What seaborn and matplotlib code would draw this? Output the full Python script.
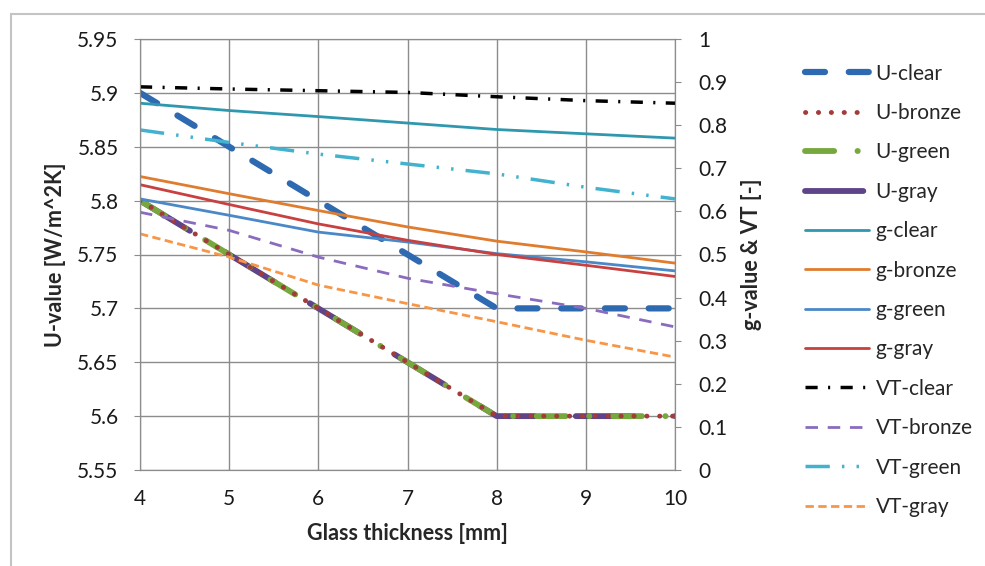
import seaborn as sns
import matplotlib.pyplot as plt
import matplotlib.patches as mpatches
from matplotlib.ticker import FuncFormatter

# data
thickness = [4, 5, 6, 7, 8, 9, 10]

u_clear = [5.90, 5.85, 5.80, 5.75, 5.70, 5.70, 5.70]
u_bronze = [5.80, 5.75, 5.70, 5.65, 5.60, 5.60, 5.60]
u_green = [5.80, 5.75, 5.70, 5.65, 5.60, 5.60, 5.60]
u_gray = [5.80, 5.75, 5.70, 5.65, 5.60, 5.60, 5.60]

g_clear = [0.851, 0.834, 0.820, 0.805, 0.790, 0.780, 0.770]
g_bronze = [0.681, 0.641, 0.602, 0.564, 0.531, 0.506, 0.480]
g_green = [0.629, 0.591, 0.552, 0.529, 0.502, 0.483, 0.462]
g_gray = [0.662, 0.616, 0.571, 0.533, 0.500, 0.475, 0.449]

vt_clear = [0.889, 0.884, 0.880, 0.876, 0.866, 0.857, 0.851]
vt_bronze = [0.598, 0.556, 0.494, 0.445, 0.409, 0.375, 0.332]
vt_green = [0.789, 0.760, 0.733, 0.710, 0.687, 0.656, 0.629]
vt_gray = [0.548, 0.494, 0.429, 0.386, 0.344, 0.301, 0.262]

sns.set_style("white")
plt.rcParams['font.family'] = ['Lato', 'DejaVu Sans']
plt.rcParams['font.size'] = 15

fig = plt.figure(figsize=(9.85, 5.66), dpi=100)
ax = fig.add_axes([140 / 985, 1 - 470 / 566, (675 - 140) / 985, (470 - 39) / 566])
ax2 = ax.twinx()

# outer frame of the chart area
fig.patches.append(mpatches.Rectangle((11 / 985, -0.1), 1.2, 1 - 14 / 566 + 0.1,
                                      transform=fig.transFigure, fill=False,
                                      edgecolor='#c4c4c4', linewidth=1.5))

# U-values, left axis; the three coloured glasses share the same values,
# so their long dashes / dots interleave like in the original
sns.lineplot(x=thickness, y=u_gray, ax=ax, color='#5E4488', linewidth=4.2,
             linestyle=(0, (10, 7)), dash_capstyle='round', label='U-gray')
sns.lineplot(x=thickness, y=u_green, ax=ax, color='#77A83E', linewidth=4.2,
             linestyle=(0, (5, 4, 0.05, 4)), dash_capstyle='round', label='U-green')
sns.lineplot(x=thickness, y=u_bronze, ax=ax, color='#A33B3B', linewidth=3.5,
             linestyle=(0, (0.05, 2.6)), dash_capstyle='round', label='U-bronze')
sns.lineplot(x=thickness, y=u_clear, ax=ax, color='#2E6AB1', linewidth=4.5,
             linestyle=(0, (3.2, 3.8)), dash_capstyle='round', label='U-clear')

# g-values and VT, right axis
sns.lineplot(x=thickness, y=g_clear, ax=ax2, color='#2F97AE', linewidth=2, label='g-clear')
sns.lineplot(x=thickness, y=g_bronze, ax=ax2, color='#E07C2E', linewidth=2, label='g-bronze')
sns.lineplot(x=thickness, y=g_green, ax=ax2, color='#4A88C7', linewidth=2, label='g-green')
sns.lineplot(x=thickness, y=g_gray, ax=ax2, color='#C8403F', linewidth=2, label='g-gray')
sns.lineplot(x=thickness, y=vt_clear, ax=ax2, color='black', linewidth=2.5,
             linestyle=(0, (3.5, 3, 0.6, 3)), label='VT-clear')
sns.lineplot(x=thickness, y=vt_bronze, ax=ax2, color='#8A6BBE', linewidth=2,
             linestyle=(0, (4.5, 3.5)), label='VT-bronze')
sns.lineplot(x=thickness, y=vt_green, ax=ax2, color='#43B2CE', linewidth=2.5,
             linestyle=(0, (7, 3.5, 0.7, 3.5, 0.7, 3.5)), label='VT-green')
sns.lineplot(x=thickness, y=vt_gray, ax=ax2, color='#F79646', linewidth=2,
             linestyle=(0, (3, 1.6)), label='VT-gray')

# axes
ax.set_xlim(4, 10)
ax.set_ylim(5.55, 5.95)
ax.set_yticks([5.55 + 0.05 * i for i in range(9)])
ax.yaxis.set_major_formatter(FuncFormatter(lambda v, p: f'{v:.2f}'.rstrip('0').rstrip('.')))
ax.set_xticks(thickness)
ax2.set_ylim(0, 1)
ax2.set_yticks([i / 10 for i in range(11)])
ax2.yaxis.set_major_formatter(FuncFormatter(lambda v, p: f'{v:.1f}'.rstrip('0').rstrip('.')))

ax.grid(True, color='#8c8c8c', linewidth=1)
ax2.grid(False)
for a in (ax, ax2):
    for s in a.spines.values():
        s.set_color('#8c8c8c')
    a.tick_params(length=4.5, color='#8c8c8c', labelsize=15, labelcolor='#1a1a1a')
ax.tick_params(axis='y', pad=11)
ax.tick_params(axis='x', pad=9)
ax2.tick_params(axis='y', pad=12)

ax.set_xlabel('Glass thickness [mm]', fontweight='bold', fontsize=15.5, labelpad=10)
ax.set_ylabel('U-value [W/m^2K]', fontweight='bold', fontsize=15.5, labelpad=8)
ax2.set_ylabel('g-value & VT [-]', fontweight='bold', fontsize=15.5, labelpad=10)

# one legend for both axes
h1, l1 = ax.get_legend_handles_labels()
h2, l2 = ax2.get_legend_handles_labels()
ax.get_legend().remove()
ax2.get_legend().remove()
order = ['U-clear', 'U-bronze', 'U-green', 'U-gray']
lookup = dict(zip(l1, h1))
handles = [lookup[k] for k in order] + h2
labels = order + l2
fig.legend(handles, labels, loc='upper left', bbox_to_anchor=(786 / 985, 1 - 45 / 566),
           frameon=False, fontsize=15, handlelength=3.1, handletextpad=0.3,
           labelspacing=0.93)

fig.savefig('out.png', dpi=100)
